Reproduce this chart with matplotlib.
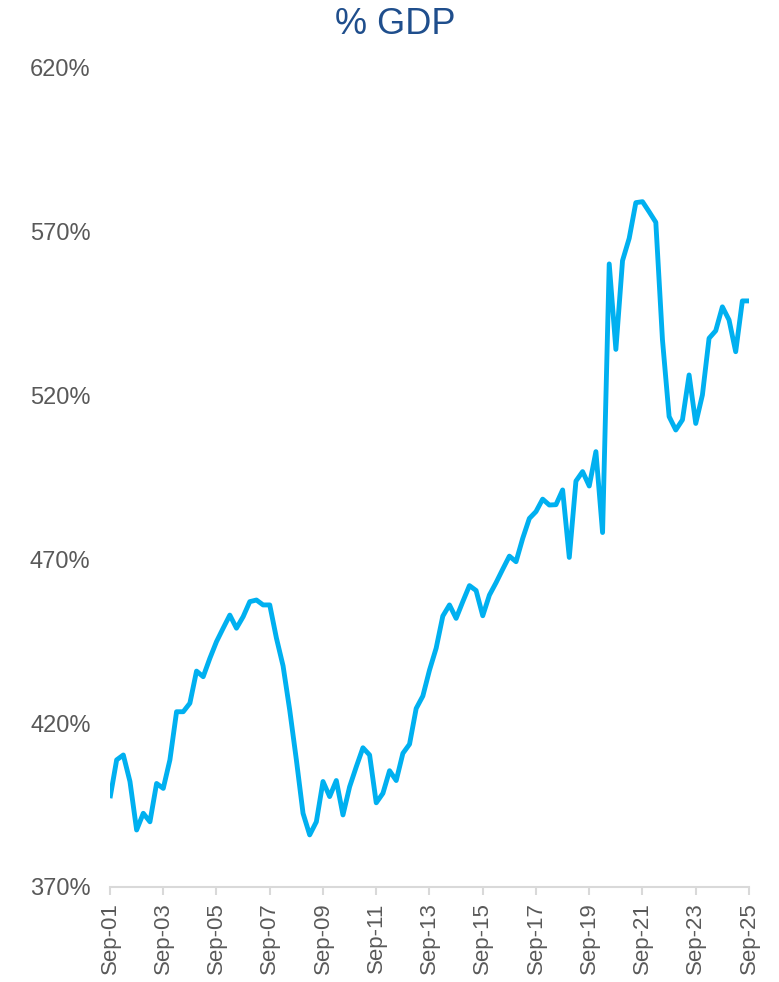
import matplotlib
matplotlib.use("Agg")
import matplotlib.pyplot as plt

# quarterly, Sep-01 .. Sep-25
gdp_pct = [
    397.1, 408.8, 410.3, 402.2, 387.4, 392.5, 389.9, 401.6, 400.1, 408.8,
    423.5, 423.5, 426.1, 435.9, 434.2, 439.8, 444.9, 449.0, 453.0, 449.0,
    452.5, 457.1, 457.6, 456.1, 456.1, 446.0, 437.5, 424.0, 408.8, 392.5,
    385.9, 389.9, 402.2, 397.6, 402.5, 392.0, 400.6, 406.7, 412.5, 410.3,
    395.7, 398.6, 405.5, 402.5, 410.8, 413.6, 424.5, 428.3, 436.2, 442.9,
    452.7, 456.1, 452.0, 457.1, 462.0, 460.5, 452.8, 459.1, 462.9, 467.0,
    471.0, 469.3, 476.4, 482.5, 484.6, 488.4, 486.6, 486.7, 491.2, 470.6,
    493.9, 496.8, 492.4, 502.9, 478.2, 560.2, 534.1, 561.2, 568.0, 578.9,
    579.2, 576.1, 572.9, 537.0, 513.6, 509.5, 512.6, 526.3, 511.5, 520.2,
    537.5, 539.8, 547.1, 543.1, 533.4, 548.9, 548.9,
]
tick_labels = ["Sep-01", "Sep-03", "Sep-05", "Sep-07", "Sep-09", "Sep-11", "Sep-13",
               "Sep-15", "Sep-17", "Sep-19", "Sep-21", "Sep-23", "Sep-25"]
y_ticks = [370, 420, 470, 520, 570, 620]

plt.rcParams["font.family"] = ["Liberation Sans", "DejaVu Sans"]

fig = plt.figure(figsize=(7.79, 9.82), dpi=100)
ax = fig.add_axes([110 / 779, 1 - 887 / 982, 639 / 779, 819 / 982])

x = list(range(len(gdp_pct)))
ax.plot(x, gdp_pct, color="#00B0F0", linewidth=3.5, solid_capstyle="butt", solid_joinstyle="round")

ax.set_xlim(0, len(gdp_pct) - 1)
ax.set_ylim(370, 620)
ax.set_xticks(range(0, len(gdp_pct), 8))
ax.set_xticklabels(tick_labels, rotation=90, fontsize=16, color="#595959")
ax.set_yticks(y_ticks)
ax.set_yticklabels([f"{v}%" for v in y_ticks], fontsize=17, color="#595959")

for s in ["top", "right", "left"]:
    ax.spines[s].set_visible(False)
ax.spines["bottom"].set_color("#D9D9D9")
ax.spines["bottom"].set_linewidth(1.5)
ax.spines["bottom"].set_clip_on(False)
ax.tick_params(axis="x", length=6, width=1.5, color="#D9D9D9", pad=5)
ax.tick_params(axis="y", length=0, pad=14)

fig.text(395 / 779, 1 - 24 / 982, "% GDP", ha="center", va="center",
         fontsize=26, color="#1F4E8C")

fig.savefig("out.png", dpi=100)
